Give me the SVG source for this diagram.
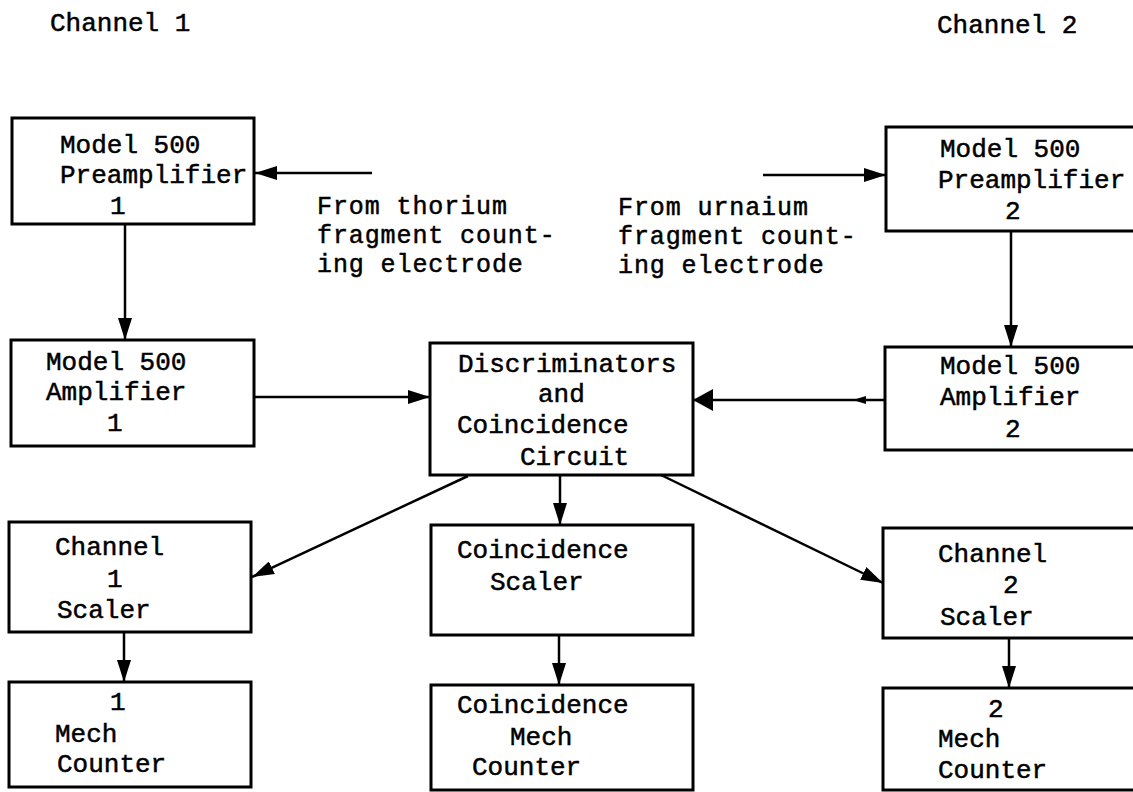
<svg xmlns="http://www.w3.org/2000/svg" width="1133" height="792" viewBox="0 0 1133 792">
<style>
.box{fill:#fff;stroke:#000;stroke-width:3}
.t{font-family:"Liberation Mono","DejaVu Sans Mono",monospace;font-size:26px;fill:#000;stroke:#000;stroke-width:0.5}
.s{font-size:25px;letter-spacing:0.9px}
.c{fill:none;stroke:#000;stroke-width:2.5}
</style>
<defs>
<marker id="ah" markerUnits="userSpaceOnUse" markerWidth="24" markerHeight="14" refX="22" refY="7" orient="auto">
<path d="M0,0 L22,7 L0,14 z" fill="#000"/>
</marker>
<marker id="ahb" markerUnits="userSpaceOnUse" markerWidth="22" markerHeight="22" refX="20" refY="11" orient="auto">
<path d="M0,0 L20,11 L0,22 z" fill="#000"/>
</marker>
</defs>
<g id="labels">
<text class="t" x="50" y="31">Channel 1</text>
<text class="t" x="937" y="33">Channel 2</text>
<text class="t s" x="317" y="214">From thorium</text>
<text class="t s" x="317" y="243">fragment count-</text>
<text class="t s" x="317" y="272">ing electrode</text>
<text class="t s" x="618" y="215">From urnaium</text>
<text class="t s" x="618" y="244">fragment count-</text>
<text class="t s" x="618" y="273">ing electrode</text>
</g>
<g id="connectors">
<line class="c" x1="372" y1="173" x2="255" y2="173" marker-end="url(#ah)"/>
<line class="c" x1="763" y1="175" x2="886" y2="175" marker-end="url(#ah)"/>
<line class="c" x1="125" y1="224" x2="125" y2="340" marker-end="url(#ah)"/>
<line class="c" x1="1011" y1="231" x2="1011" y2="347" marker-end="url(#ah)"/>
<line class="c" x1="254" y1="397" x2="430" y2="397" marker-end="url(#ah)"/>
<line class="c" x1="885" y1="400" x2="693" y2="400" marker-end="url(#ahb)"/>
<path d="M853,400 L866,396 L866,404 z" fill="#000"/>
<line class="c" x1="468" y1="476" x2="252" y2="577" marker-end="url(#ah)"/>
<line class="c" x1="560" y1="475" x2="560" y2="525" marker-end="url(#ah)"/>
<line class="c" x1="661" y1="475" x2="883" y2="583" marker-end="url(#ah)"/>
<line class="c" x1="124" y1="632" x2="124" y2="682" marker-end="url(#ah)"/>
<line class="c" x1="559" y1="635" x2="559" y2="685" marker-end="url(#ah)"/>
<line class="c" x1="1009" y1="638" x2="1009" y2="688" marker-end="url(#ah)"/>
</g>
<g id="preamp1">
<rect class="box" x="12" y="118" width="242" height="106"/>
<text class="t" x="60" y="153">Model 500</text>
<text class="t" x="60" y="183">Preamplifier</text>
<text class="t" x="110" y="214">1</text>
</g>
<g id="preamp2">
<rect class="box" x="886" y="127" width="254" height="104"/>
<text class="t" x="940" y="157">Model 500</text>
<text class="t" x="938" y="188">Preamplifier</text>
<text class="t" x="1005" y="219">2</text>
</g>
<g id="amp1">
<rect class="box" x="11" y="340" width="243" height="106"/>
<text class="t" x="46" y="370">Model 500</text>
<text class="t" x="46" y="400">Amplifier</text>
<text class="t" x="107" y="431">1</text>
</g>
<g id="disc">
<rect class="box" x="430" y="343" width="263" height="132"/>
<text class="t" x="458" y="372">Discriminators</text>
<text class="t" x="538" y="402">and</text>
<text class="t" x="457" y="433">Coincidence</text>
<text class="t" x="520" y="465">Circuit</text>
</g>
<g id="amp2">
<rect class="box" x="885" y="347" width="255" height="103"/>
<text class="t" x="940" y="374">Model 500</text>
<text class="t" x="940" y="405">Amplifier</text>
<text class="t" x="1005" y="437">2</text>
</g>
<g id="scaler1">
<rect class="box" x="9" y="522" width="242" height="110"/>
<text class="t" x="55" y="555">Channel</text>
<text class="t" x="107" y="587">1</text>
<text class="t" x="57" y="618">Scaler</text>
</g>
<g id="coincscaler">
<rect class="box" x="431" y="525" width="262" height="110"/>
<text class="t" x="457" y="558">Coincidence</text>
<text class="t" x="490" y="590">Scaler</text>
</g>
<g id="scaler2">
<rect class="box" x="883" y="528" width="257" height="110"/>
<text class="t" x="938" y="562">Channel</text>
<text class="t" x="1003" y="593">2</text>
<text class="t" x="940" y="625">Scaler</text>
</g>
<g id="mech1">
<rect class="box" x="9" y="682" width="242" height="105"/>
<text class="t" x="110" y="710">1</text>
<text class="t" x="55" y="742">Mech</text>
<text class="t" x="57" y="772">Counter</text>
</g>
<g id="coincmech">
<rect class="box" x="431" y="685" width="262" height="105"/>
<text class="t" x="457" y="713">Coincidence</text>
<text class="t" x="510" y="745">Mech</text>
<text class="t" x="472" y="775">Counter</text>
</g>
<g id="mech2">
<rect class="box" x="883" y="688" width="257" height="102"/>
<text class="t" x="988" y="717">2</text>
<text class="t" x="938" y="747">Mech</text>
<text class="t" x="938" y="778">Counter</text>
</g>
</svg>
